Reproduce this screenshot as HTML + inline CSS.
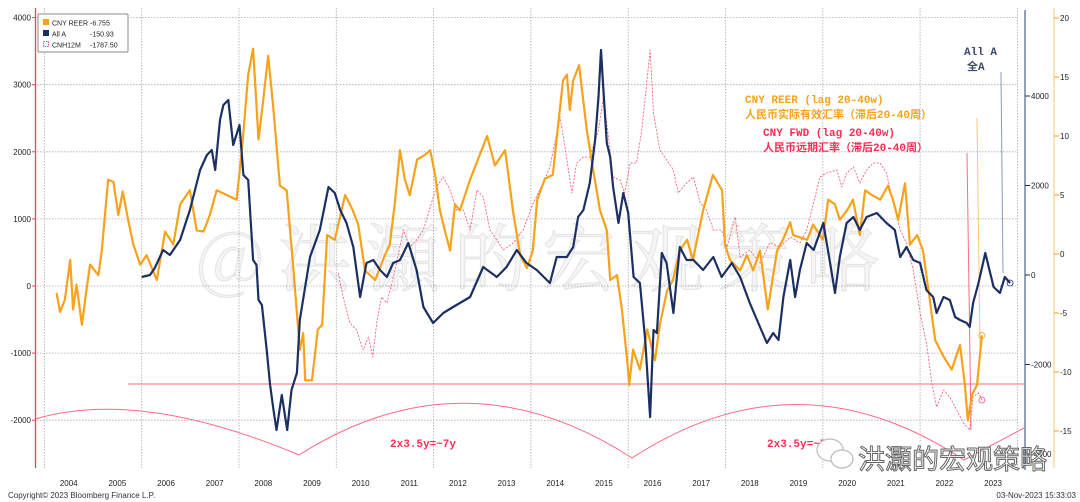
<!DOCTYPE html>
<html><head><meta charset="utf-8">
<style>
html,body{margin:0;padding:0;background:#fff;}
body{width:1080px;height:502px;overflow:hidden;position:relative;font-family:"Liberation Sans","Noto Sans CJK SC",sans-serif;}
svg{position:absolute;left:0;top:0;}
</style></head>
<body>
<svg id="chart" width="1080" height="502" viewBox="0 0 1080 502">
<g id="grid"></g>
<g id="annot"></g>
<text x="545" y="285" font-size="74" fill="#000" fill-opacity="0.04" stroke="#000" stroke-opacity="0.08" stroke-width="1.2" text-anchor="middle" font-family="'Noto Serif CJK SC','Noto Sans CJK SC',sans-serif" letter-spacing="14">@洪灝的宏观策略</text>
<g id="series"></g>
<g id="axes"></g>
<g>
<rect x="38" y="14" width="90" height="38" fill="#fff" stroke="#888" stroke-width="1" rx="1"/>
<rect x="43" y="19" width="6" height="6" fill="#f7a21b"/>
<text x="52" y="25.5" font-size="7" fill="#222">CNY REER</text>
<text x="90" y="25.5" font-size="7" fill="#222">-6.755</text>
<rect x="43" y="30" width="6" height="6" fill="#1b2f63"/>
<text x="52" y="36.5" font-size="7" fill="#222">All A</text>
<text x="90" y="36.5" font-size="7" fill="#222">-150.93</text>
<rect x="43.5" y="41.5" width="5" height="5" fill="none" stroke="#f06" stroke-width="0.8" stroke-dasharray="1.5,1"/>
<text x="52" y="47.5" font-size="7" fill="#222">CNH12M</text>
<text x="90" y="47.5" font-size="7" fill="#222">-1787.50</text>
</g>
<text x="8" y="498" font-size="8" fill="#333">Copyright© 2023 Bloomberg Finance L.P.</text>
<text x="1076" y="498" font-size="8" fill="#333" text-anchor="end">03-Nov-2023 15:33:03</text>
<g>
<ellipse cx="830" cy="450" rx="13" ry="11" fill="#fff" stroke="#bbb" stroke-width="1.2"/>
<ellipse cx="842" cy="459" rx="11" ry="9" fill="#fff" stroke="#bbb" stroke-width="1.2"/>
<text x="858" y="469" font-size="27" fill="#fff" stroke="#666" stroke-width="1" font-family="'Noto Sans CJK SC',sans-serif">洪灝的宏观策略</text>
</g>
</svg>
<script>
// ---- data ----
const reerDates=[2004.25,2004.32,2004.42,2004.53,2004.59,2004.66,2004.77,2004.87,2004.94,2005.11,2005.18,2005.31,2005.42,2005.52,2005.61,2005.72,2005.83,2005.97,2006.10,2006.31,2006.48,2006.65,2006.79,2006.99,2007.13,2007.27,2007.40,2007.54,2007.75,2007.95,2008.06,2008.19,2008.29,2008.40,2008.50,2008.60,2008.71,2008.84,2008.98,2009.12,2009.25,2009.32,2009.36,2009.50,2009.62,2009.71,2009.81,2009.97,2010.18,2010.34,2010.45,2010.59,2010.80,2011.00,2011.10,2011.21,2011.31,2011.41,2011.51,2011.66,2011.82,2011.93,2012.03,2012.13,2012.23,2012.34,2012.44,2012.54,2012.75,2012.91,2013.10,2013.26,2013.47,2013.63,2013.78,2013.92,2014.04,2014.13,2014.29,2014.45,2014.56,2014.66,2014.74,2014.80,2014.87,2014.99,2015.05,2015.15,2015.28,2015.42,2015.56,2015.63,2015.77,2015.87,2015.98,2016.02,2016.10,2016.24,2016.39,2016.55,2016.65,2016.80,2016.92,2017.06,2017.21,2017.33,2017.54,2017.74,2017.93,2017.99,2018.09,2018.30,2018.44,2018.57,2018.71,2018.87,2019.06,2019.18,2019.33,2019.39,2019.68,2019.80,2020.00,2020.11,2020.25,2020.35,2020.50,2020.62,2020.76,2020.87,2021.01,2021.18,2021.34,2021.44,2021.55,2021.69,2021.79,2021.94,2022.06,2022.20,2022.31,2022.47,2022.65,2022.82,2022.92,2022.98,2023.07,2023.17,2023.27];
const reerVals=[-3.3,-4.9,-3.9,-0.5,-4.7,-2.6,-6.0,-2.9,-0.9,-1.8,0.3,6.3,6.1,3.3,5.3,2.9,0.8,-0.9,-0.1,-2.2,1.9,0.8,4.2,5.4,2.0,1.9,3.3,5.4,5.0,4.6,8.8,15.2,17.4,9.7,13.1,16.8,12.2,5.8,5.4,-1.4,-8.1,-6.7,-10.7,-10.7,-6.4,-6.0,1.6,1.2,5.0,3.7,2.5,-1.4,-2.2,-0.1,0.8,4.6,8.8,6.3,5.0,8.0,8.4,8.8,6.7,3.7,2.0,0.3,4.2,3.7,6.3,8.0,10.0,7.5,8.8,3.7,-0.1,-1.2,0.3,4.6,6.4,6.7,10.9,14.7,15.2,12.2,14.7,16.0,13.9,10.5,7.1,3.7,2.0,-2.2,-1.8,-4.7,-9.0,-11.1,-8.1,-9.8,-6.4,-9.0,-6.0,-3.1,-2.2,0.3,1.2,-0.5,3.7,6.7,5.4,0.8,-0.5,-1.4,-0.1,-1.4,0.3,-4.7,0.3,1.2,2.7,1.6,1.2,2.5,1.2,4.6,4.2,2.9,3.7,4.6,1.6,5.4,5.0,4.6,5.8,4.6,2.9,6.0,0.8,1.6,0.3,-3.9,-7.3,-8.6,-9.8,-7.7,-11.1,-14.1,-11.9,-11.1,-6.9];
const allaDates=[2006.00,2006.17,2006.27,2006.44,2006.58,2006.79,2006.99,2007.20,2007.34,2007.44,2007.51,2007.61,2007.68,2007.78,2007.88,2008.01,2008.09,2008.19,2008.29,2008.36,2008.40,2008.47,2008.57,2008.64,2008.71,2008.77,2008.88,2008.99,2009.08,2009.19,2009.25,2009.46,2009.66,2009.84,2009.97,2010.08,2010.21,2010.35,2010.49,2010.62,2010.76,2010.90,2011.04,2011.17,2011.31,2011.48,2011.65,2011.79,2011.99,2012.20,2012.40,2012.75,2013.02,2013.30,2013.50,2013.71,2013.91,2014.12,2014.39,2014.53,2014.74,2014.87,2014.97,2015.08,2015.21,2015.32,2015.39,2015.44,2015.49,2015.56,2015.63,2015.69,2015.80,2015.90,2016.00,2016.11,2016.24,2016.35,2016.45,2016.52,2016.59,2016.69,2016.79,2016.93,2017.06,2017.20,2017.34,2017.54,2017.75,2017.92,2018.13,2018.30,2018.50,2018.71,2018.85,2018.98,2019.09,2019.19,2019.33,2019.43,2019.53,2019.67,2019.81,2020.01,2020.15,2020.25,2020.35,2020.49,2020.63,2020.76,2020.90,2021.11,2021.31,2021.48,2021.59,2021.72,2021.86,2022.00,2022.13,2022.27,2022.34,2022.48,2022.61,2022.72,2022.82,2022.96,2023.02,2023.09,2023.20,2023.34,2023.51,2023.64,2023.74,2023.85];
const allaVals=[-45,0,156,559,447,782,1453,2346,2682,2793,2346,3464,3799,3911,2905,3352,2235,2123,335,223,-559,-670,-1676,-2458,-3017,-3464,-2682,-3464,-2570,-2190,-1006,402,1006,1966,1832,1453,1162,626,-492,268,335,112,-45,268,335,715,112,-715,-1073,-849,-715,-492,179,-45,179,559,268,112,-179,402,402,626,1296,1453,2056,3017,3978,5028,4134,2950,2637,1966,1162,1832,1385,-45,-179,-1453,-3173,-1229,-1296,492,268,-849,626,335,335,112,402,-45,268,-45,-626,-1162,-1520,-1296,-1453,-492,335,-492,112,715,559,1162,268,-402,402,1162,1296,1006,1296,1385,1162,1006,402,626,335,268,-335,-492,-849,-492,-559,-939,-1006,-1073,-1162,-626,-179,492,-268,-402,-45,-179];
const cnhDates=[2010.04,2010.14,2010.28,2010.42,2010.55,2010.66,2010.75,2010.83,2010.93,2011.04,2011.14,2011.24,2011.38,2011.51,2011.65,2011.79,2011.93,2012.06,2012.20,2012.34,2012.47,2012.61,2012.75,2012.89,2013.02,2013.16,2013.30,2013.43,2013.64,2013.84,2014.05,2014.25,2014.39,2014.46,2014.60,2014.70,2014.84,2014.94,2015.08,2015.21,2015.39,2015.49,2015.56,2015.69,2015.83,2015.93,2016.04,2016.17,2016.28,2016.38,2016.45,2016.52,2016.65,2016.79,2016.93,2017.03,2017.20,2017.34,2017.48,2017.61,2017.75,2017.92,2018.03,2018.20,2018.30,2018.50,2018.71,2018.91,2019.12,2019.33,2019.53,2019.67,2019.81,2019.94,2020.08,2020.29,2020.39,2020.49,2020.63,2020.76,2020.90,2021.04,2021.18,2021.31,2021.45,2021.59,2021.72,2021.86,2022.00,2022.13,2022.24,2022.34,2022.48,2022.61,2022.75,2022.89,2023.02,2023.09,2023.20,2023.27];
const cnhVals=[194,-164,-551,-656,-954,-760,-1058,-551,-164,-253,45,343,835,581,686,835,1177,1475,1624,1431,1133,1133,835,1431,1326,835,686,537,641,835,1237,1535,1773,2027,2519,2072,1386,1833,1923,1923,2325,2817,2429,1624,1580,1386,1833,1833,2325,3025,3517,2578,2027,1878,1729,1386,1535,1624,1237,1133,835,835,581,1028,432,537,343,641,581,730,641,835,1237,1624,1684,1729,1475,1684,1773,1535,1729,1833,1833,1684,1237,835,641,238,-402,-849,-1446,-1803,-1550,-1654,-1848,-2042,-2146,-1654,-1595,-1699];
const years=[2004,2005,2006,2007,2008,2009,2010,2011,2012,2013,2014,2015,2016,2017,2018,2019,2020,2021,2022,2023];
const leftTicks=[4000,3000,2000,1000,0,-1000,-2000];
const navyTicks=[4000,2000,0,-2000,-4000];
const orangeTicks=[20,15,10,5,0,-5,-10,-15];

// ---- scales ----
const X=t=>239+(t-2008)*48.65;
const YL=v=>286-v*0.0671;
const YN=v=>275-v*0.04475;
const YO=v=>254-v*11.8;
const NS='http://www.w3.org/2000/svg';
function mk(tag,parent){const e=document.createElementNS(NS,tag);parent.appendChild(e);return e;}
const grid=document.getElementById('grid'),axes=document.getElementById('axes'),ser=document.getElementById('series'),ann=document.getElementById('annot');

for(let y=2004;y<=2024;y+=2){const l=mk('line',grid);


l.setAttribute('x1',X(y));l.setAttribute('x2',X(y));l.setAttribute('y1',8);l.setAttribute('y2',468);l.setAttribute('stroke','#aaa');l.setAttribute('stroke-width','0.8');l.setAttribute('stroke-dasharray','1.5,1.5');}
leftTicks.forEach(v=>{const l=mk('line',grid);


l.setAttribute('x1',37);l.setAttribute('x2',1018);l.setAttribute('y1',YL(v));l.setAttribute('y2',YL(v));l.setAttribute('stroke','#aaa');l.setAttribute('stroke-width','0.8');l.setAttribute('stroke-dasharray','1.5,1.5');});

let a=mk('line',axes);


a.setAttribute('x1',35.5);a.setAttribute('x2',35.5);a.setAttribute('y1',8);a.setAttribute('y2',468);a.setAttribute('stroke','#ff3b5c');a.setAttribute('stroke-width','1.3');
leftTicks.forEach(v=>{const t=mk('text',axes);


t.setAttribute('x',31);t.setAttribute('y',YL(v)+3);t.setAttribute('font-size','8');t.setAttribute('text-anchor','end');t.setAttribute('fill','#222');t.textContent=v;
const k=mk('line',axes);


k.setAttribute('x1',32);k.setAttribute('x2',36);k.setAttribute('y1',YL(v));k.setAttribute('y2',YL(v));k.setAttribute('stroke','#ff3b5c');});
a=mk('line',axes);


a.setAttribute('x1',1025);a.setAttribute('x2',1025);a.setAttribute('y1',10);a.setAttribute('y2',470);a.setAttribute('stroke','#5a6d96');a.setAttribute('stroke-width','1.3');
navyTicks.forEach(v=>{const t=mk('text',axes);


t.setAttribute('x',1031);t.setAttribute('y',YN(v)+3);t.setAttribute('font-size','8');t.setAttribute('fill','#222');t.textContent=v;
const k=mk('line',axes);


k.setAttribute('x1',1025);k.setAttribute('x2',1030);k.setAttribute('y1',YN(v));k.setAttribute('y2',YN(v));k.setAttribute('stroke','#1b2f63');});
a=mk('line',axes);


a.setAttribute('x1',1054);a.setAttribute('x2',1054);a.setAttribute('y1',8);a.setAttribute('y2',468);a.setAttribute('stroke','#fbc77a');a.setAttribute('stroke-width','1');
orangeTicks.forEach(v=>{const t=mk('text',axes);


t.setAttribute('x',1060);t.setAttribute('y',YO(v)+3);t.setAttribute('font-size','8');t.setAttribute('fill','#222');t.textContent=v;
const k=mk('line',axes);


k.setAttribute('x1',1054);k.setAttribute('x2',1059);k.setAttribute('y1',YO(v));k.setAttribute('y2',YO(v));k.setAttribute('stroke','#f7a21b');});
years.forEach(y=>{const t=mk('text',axes);


t.setAttribute('x',X(y+0.5));t.setAttribute('y',486);t.setAttribute('font-size','8');t.setAttribute('text-anchor','middle');t.setAttribute('fill','#222');t.textContent=y;});

function line(x1,y1,x2,y2,c,w,name){const l=mk('line',ann);


l.setAttribute('x1',x1);l.setAttribute('y1',y1);l.setAttribute('x2',x2);l.setAttribute('y2',y2);l.setAttribute('stroke',c);l.setAttribute('stroke-width',w);}
line(128,384,1024,384,'#ff6b80',1,'threshold-line');
const arc=mk('path',ann);


arc.setAttribute('d','M35 419 Q140 388 299 455 Q465 350 632 458 Q798 350 964 460 L1024 428');
arc.setAttribute('fill','none');arc.setAttribute('stroke','#ff6b80');arc.setAttribute('stroke-width','1');
function txt(x,y,s,c,fs,name,bold){const t=mk('text',ann);


t.setAttribute('x',x);t.setAttribute('y',y);t.setAttribute('font-size',fs);t.setAttribute('fill',c);t.setAttribute('font-family',"'Liberation Mono','Noto Sans CJK SC',monospace");if(bold)t.setAttribute('font-weight','bold');t.textContent=s;}
txt(390,447,'2x3.5y=~7y','#ff2d55',11,'cycle-label-1',true);
txt(767,447,'2x3.5y=~7y','#ff2d55',11,'cycle-label-2',true);
txt(745,103,'CNY REER (lag 20-40w)','#f7a21b',11,'reer-annotation',true);
txt(745,118,'人民币实际有效汇率（滞后20-40周）','#f7a21b',11,'reer-annotation-cn',true);
txt(763,136,'CNY FWD (lag 20-40w)','#ff2d55',11,'fwd-annotation',true);
txt(763,151,'人民币远期汇率（滞后20-40周）','#ff2d55',11,'fwd-annotation-cn',true);
txt(964,55,'All A','#3a4a6b',11,'alla-annotation',true);
txt(967,70,'全A','#3a4a6b',11,'alla-annotation-cn',true);
line(1001,72,1003,273,'#8a9bb5',1,'alla-callout');
line(977,118,980,348,'#fbc77a',1,'reer-callout');
line(967,153,971,430,'#ff6b80',1,'fwd-callout');

function draw(d,v,ys,color,w,name,dash){let p='';d.forEach((t,i)=>{p+=(i?'L':'M')+X(t).toFixed(1)+' '+ys(v[i]).toFixed(1);});
const e=mk('path',ser);


e.setAttribute('d',p);e.setAttribute('fill','none');e.setAttribute('stroke',color);e.setAttribute('stroke-width',w);e.setAttribute('stroke-linejoin','round');if(dash)e.setAttribute('stroke-dasharray',dash);
const c=mk('circle',ser);


const n=d.length-1;c.setAttribute('cx',X(d[n]));c.setAttribute('cy',ys(v[n]));c.setAttribute('r',3);c.setAttribute('fill','none');c.setAttribute('stroke',color);c.setAttribute('stroke-width','0.8');}
draw(cnhDates,cnhVals,YL,'#ff4d6a',0.8,'cnh12m-line','2,1.5');
draw(reerDates,reerVals,YO,'#f7a21b',2.2,'cny-reer-line');
draw(allaDates,allaVals,YN,'#1b2f63',2.2,'all-a-line');
</script>
</body></html>
